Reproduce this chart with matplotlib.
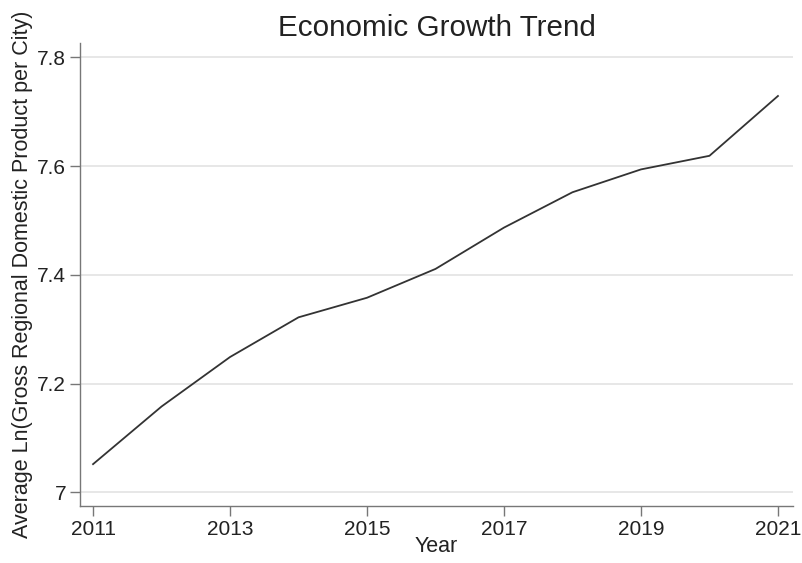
import numpy as np
import matplotlib.pyplot as plt

plt.rcParams['font.family'] = ['Liberation Sans', 'DejaVu Sans']

years = [2011, 2012, 2013, 2014, 2015, 2016, 2017, 2018, 2019, 2020, 2021]
ln_grdp = [7.052, 7.158, 7.249, 7.322, 7.358, 7.411, 7.487, 7.552, 7.594, 7.619, 7.729]
xticks = [2011, 2013, 2015, 2017, 2019, 2021]
yticks = [7.0, 7.2, 7.4, 7.6, 7.8]
ytick_labels = ["7", "7.2", "7.4", "7.6", "7.8"]

fig = plt.figure(figsize=(8.02, 5.63), dpi=100)
ax = fig.add_axes([0.0998, 0.1012, 0.889, 0.822])

ax.plot(years, ln_grdp, color="#333333", linewidth=1.3, zorder=3)

ax.set_xlim(2010.81, 2021.22)
ax.set_ylim(6.975, 7.826)
ax.set_xticks(xticks)
ax.set_yticks(yticks)
ax.set_yticklabels(ytick_labels)
ax.grid(axis="y", color="#e3e3e3", linewidth=1.2, zorder=0)

for s in ["top", "right"]:
    ax.spines[s].set_visible(False)
for s in ["left", "bottom"]:
    ax.spines[s].set_color("#777777")
    ax.spines[s].set_linewidth(1.0)

ax.tick_params(axis="both", colors="#777777", length=7, width=1.0,
               labelcolor="#222222", labelsize=15)
ax.tick_params(axis="y", pad=3)
ax.tick_params(axis="x", pad=3)

ax.set_title("Economic Growth Trend", fontsize=21.3, color="#222222", pad=5)
ax.set_xlabel("Year", fontsize=15.5, color="#222222", labelpad=-2)
ax.set_ylabel("Average Ln(Gross Regional Domestic Product per City)", fontsize=15.5,
              color="#222222", labelpad=3)

fig.savefig("out.png", dpi=100)
